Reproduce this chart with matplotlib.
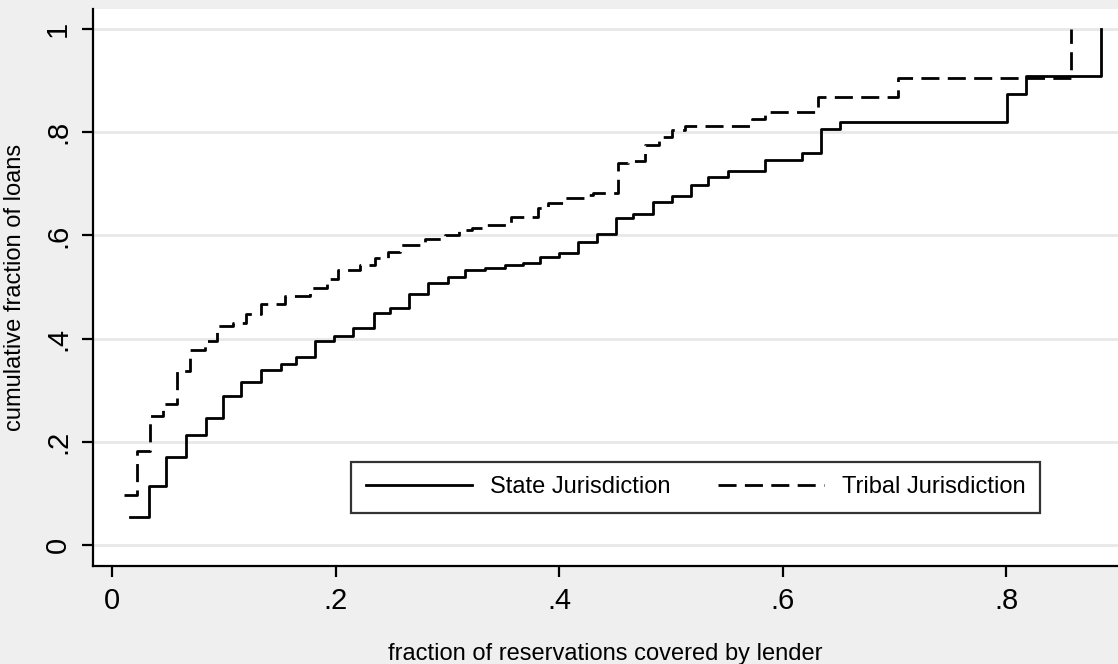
import matplotlib
matplotlib.use("Agg")
import matplotlib.pyplot as plt
from matplotlib import font_manager

# step positions (x where the new level starts) and cumulative levels
state_x = [0.016, 0.033, 0.048, 0.066, 0.084, 0.099, 0.115, 0.133, 0.151, 0.165,
           0.182, 0.199, 0.216, 0.234, 0.249, 0.266, 0.283, 0.301, 0.316, 0.334,
           0.352, 0.368, 0.383, 0.400, 0.417, 0.434, 0.451, 0.466, 0.484, 0.501,
           0.518, 0.533, 0.551, 0.584, 0.617, 0.634, 0.651, 0.801, 0.818, 0.885]
state_y = [0.054, 0.114, 0.171, 0.213, 0.247, 0.289, 0.315, 0.339, 0.351, 0.364,
           0.396, 0.406, 0.421, 0.450, 0.459, 0.486, 0.507, 0.520, 0.532, 0.536,
           0.543, 0.547, 0.559, 0.565, 0.587, 0.603, 0.634, 0.641, 0.664, 0.677,
           0.698, 0.714, 0.725, 0.746, 0.760, 0.807, 0.820, 0.874, 0.909, 1.0]

tribal_x = [0.011, 0.022, 0.034, 0.046, 0.058, 0.070, 0.083, 0.094, 0.108, 0.120,
            0.133, 0.155, 0.177, 0.192, 0.202, 0.222, 0.235, 0.247, 0.258, 0.280,
            0.298, 0.310, 0.322, 0.335, 0.357, 0.381, 0.390, 0.404, 0.425, 0.430,
            0.453, 0.462, 0.477, 0.489, 0.501, 0.513, 0.573, 0.584, 0.632, 0.703, 0.858]
tribal_y = [0.097, 0.183, 0.250, 0.273, 0.337, 0.378, 0.396, 0.424, 0.431, 0.447,
            0.468, 0.483, 0.499, 0.516, 0.532, 0.543, 0.556, 0.568, 0.581, 0.594,
            0.601, 0.610, 0.614, 0.620, 0.636, 0.653, 0.662, 0.673, 0.678, 0.683,
            0.740, 0.744, 0.775, 0.791, 0.804, 0.812, 0.825, 0.840, 0.869, 0.906, 1.0]

xticks = [0, 0.2, 0.4, 0.6, 0.8]
xtick_labels = ["0", ".2", ".4", ".6", ".8"]
yticks = [0, 0.2, 0.4, 0.6, 0.8, 1.0]
ytick_labels = ["0", ".2", ".4", ".6", ".8", "1"]

names = {f.name for f in font_manager.fontManager.ttflist}
tickfont = "Liberation Sans Narrow" if "Liberation Sans Narrow" in names else "Liberation Sans"
plt.rcParams["font.family"] = ["Liberation Sans", "DejaVu Sans"]

bg = "#efefef"
fig = plt.figure(figsize=(11.18, 6.64), dpi=100, facecolor=bg)
ax = fig.add_axes([93 / 1118, 1 - 566 / 664, 1 - 93 / 1118, 557 / 664])
ax.set_facecolor("white")

ax.plot(state_x, state_y, drawstyle="steps-post", color="black", lw=2.0,
        label="State Jurisdiction")
ax.plot(tribal_x, tribal_y, drawstyle="steps-post", color="black", lw=2.0,
        dashes=(6.5, 3.0), label="Tribal Jurisdiction")

ax.set_xlim(-0.017, 0.900)
ax.set_ylim(-0.0407, 1.0388)

for y in yticks:
    ax.axhline(y, color="#e8e8e8", lw=2.0, zorder=0)

ax.set_xticks(xticks)
ax.set_xticklabels(xtick_labels, fontfamily=tickfont, fontsize=21)
ax.set_yticks(yticks)
ax.set_yticklabels(ytick_labels, fontfamily=tickfont, fontsize=21, rotation=90, va="center")
ax.tick_params(length=8, width=1.6, color="black", pad=7)

for s in ["top", "right"]:
    ax.spines[s].set_visible(False)
for s in ["left", "bottom"]:
    ax.spines[s].set_linewidth(1.6)

ax.set_xlabel("fraction of reservations covered by lender", fontsize=17, labelpad=20)
ax.set_ylabel("cumulative fraction of loans", fontsize=17, labelpad=13)

leg = ax.legend(loc="center", bbox_to_anchor=(0.588, 0.141), ncol=2, fontsize=17,
                handlelength=4.5, handletextpad=0.75, columnspacing=2.0,
                borderpad=0.62, frameon=True, fancybox=False)
leg.get_frame().set_edgecolor("black")
leg.get_frame().set_linewidth(1.6)

fig.savefig("out.png", dpi=100, facecolor=bg)
